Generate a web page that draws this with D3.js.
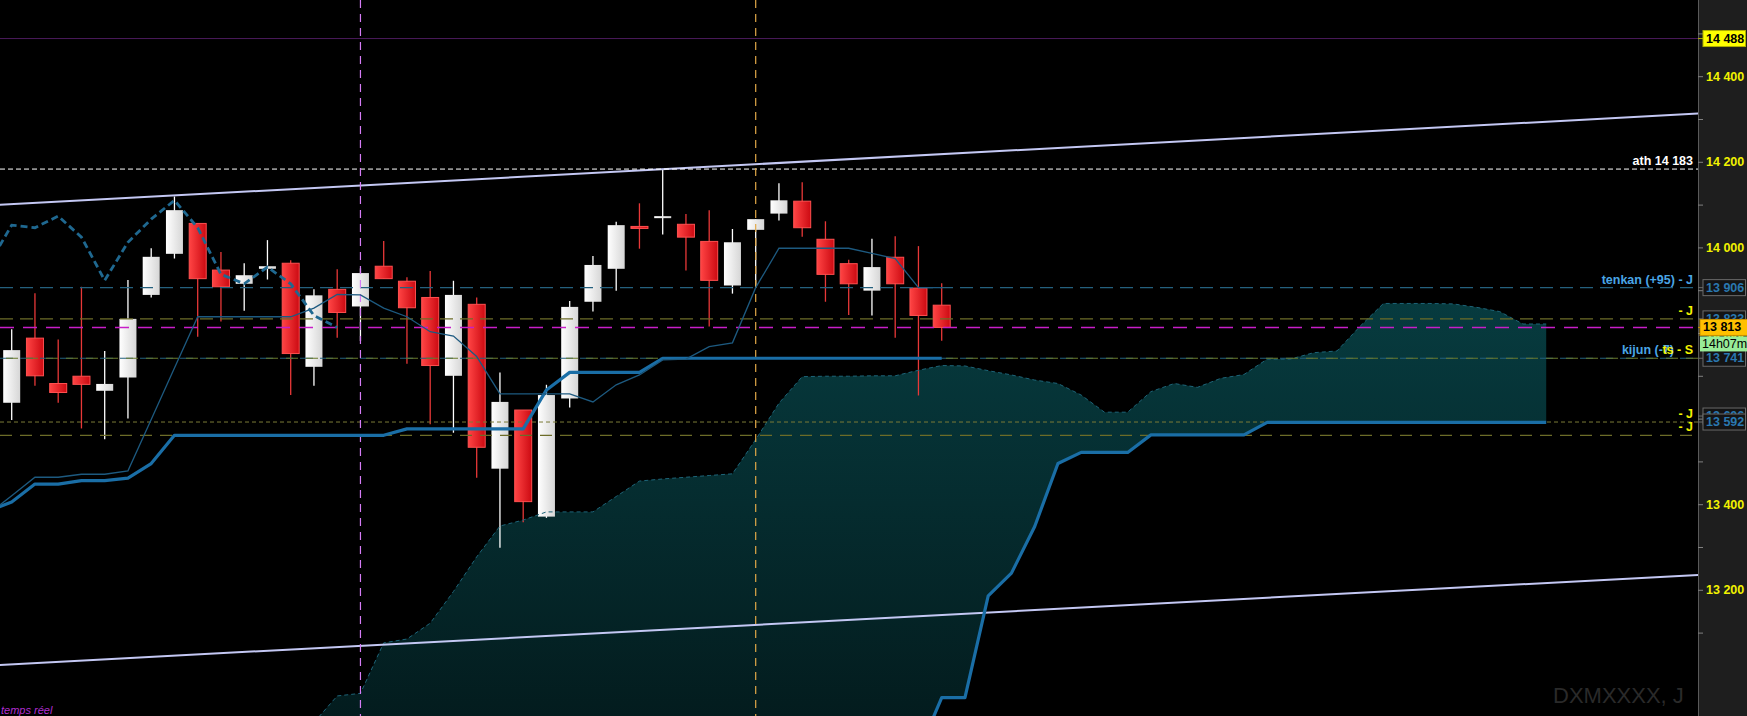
<!DOCTYPE html>
<html>
<head>
<meta charset="utf-8">
<script src="https://cdn.jsdelivr.net/npm/d3@7"></script>
<style>
  html, body { margin: 0; padding: 0; background: #000; overflow: hidden; }
  svg { display: block; }
</style>
</head>
<body>
<div id="chart"></div>
<script>
// ── Daily candles (index 0 = leftmost bar) ───────────────────
const opens  = [13637,13788,13682,13699,13665,13696,13889,13985,14056,13947,13915,13950,13963,13721,13902,13862,13956,13921,13883,13700,13867,13483,13620,13371,13647,13873,13950,14049,14070,14054,14014,13911,14041,14079,14108,14019,13962,13899,13977,13905,13865];
const highs  = [13809,13893,13785,13908,13758,13924,13998,14119,14056,13989,13963,14017,13970,13902,13949,13951,14015,13930,13945,13922,13883,13708,13620,13679,13875,13980,14060,14103,14183,14078,14087,14043,14066,14150,14152,14061,13971,14020,14026,14003,13916];
const lows   = [13597,13677,13637,13577,13552,13600,13883,13974,13791,13827,13852,13925,13655,13677,13789,13781,13927,13728,13587,13567,13462,13298,13358,13368,13626,13850,13899,13997,14030,13946,13815,13892,13906,14063,14025,13873,13842,13841,13789,13654,13782];
const closes = [13760,13700,13661,13680,13681,13833,13978,14087,13927,13908,13935,13956,13752,13888,13848,13940,13927,13859,13724,13889,13533,13639,13406,13655,13861,13959,14052,14046,14073,14024,13923,14012,14066,14110,14046,13937,13915,13954,13915,13841,13813];

// ── Ichimoku lines (tenkan / kijun start at index -1) ───────
const lineStart = -1;
const tenkan = [13377,13420,13463,13463,13470,13470,13478,13598,13718,13838,13838,13838,13838,13838,13858,13890,13889,13858,13838,13803,13793,13745,13658,13658,13658,13658,13639,13679,13702,13737,13739,13768,13777,13906,13998,13998,13998,13998,13986,13974,13906,13906];
const kijun  = [13384,13405,13447,13447,13455,13455,13461,13495,13561,13561,13561,13561,13561,13561,13561,13561,13561,13561,13576,13576,13576,13576,13576,13576,13667,13708,13708,13708,13708,13741,13741,13741,13741,13741,13741,13741,13741,13741,13741,13741,13741,13741];
const chikouShift = 26;

// senkou spans, projected 26 bars ahead
const spanAStart = 12;
const spanA = [12830,12890,12952,12958,13076,13085,13122,13196,13277,13349,13363,13382,13382,13382,13418,13454,13459,13463,13467,13471,13551,13636,13698,13699,13699,13700,13700,13713,13724,13723,13712,13702,13690,13682,13655,13615,13615,13663,13682,13673,13694,13703,13739,13739,13754,13758,13816,13869,13869,13869,13868,13860,13850,13821,13821];
const spanBStart = 39;
const spanB = [12820,12948,12948,13186,13239,13348,13495,13521,13521,13521,13562,13562,13562,13562,13562,13591,13591,13591,13591,13591,13591,13591,13591,13591,13591,13591,13591,13591];

// ── Drawings ─────────────────────────────────────────────────
const upperTrend = [[-1, 14098], [74, 14317]];
const lowerTrend = [[-1, 13023], [74, 13239]];
const markerBars = [15, 32];

const levelPrices = [14488, 14183, 13906, 13833, 13813, 13741, 13592, 13561];
const levelLabels = ['', 'ath 14 183', 'tenkan (+95) - J', '- J', '', 'kijun (-7)', '- J', '- J'];

// price tags on the axis, drawn in this order (later ones cover earlier)
const tagPrices = [13833, 13606, 13906, 13592, 13741, 13813, 14488];
const countdownText = '14h07mn';

const axisTicks = [13100,13200,13300,13400,13500,13600,13700,13800,13900,14000,14100,14200,14300,14400,14500];
const axisLabelTicks = [13200,13400,13600,13800,14000,14200,14400];

// ── Layout / styles ──────────────────────────────────────────
const W = 1747, H = 716, axisX = 1698;
const FONT = '"Liberation Sans", Arial, sans-serif';
const YELLOW = '#f2f200';
const LEVEL_STYLES = [
  { stroke: '#4a1a5a', dash: null,   width: 1   },   // 14488
  { stroke: '#ffffff', dash: '5 3',  width: 1   },   // ath
  { stroke: '#24607e', dash: '13 7', width: 1.2 },   // tenkan
  { stroke: '#6c6c28', dash: '13 7', width: 1.2 },   // 13833
  { stroke: '#c81ec8', dash: '14 9', width: 1.5 },   // 13813 last
  { stroke: '#24607e', dash: '13 7', width: 1.2 },   // kijun
  { stroke: '#7a7a36', dash: '4 3',  width: 1   },   // 13592
  { stroke: '#6c6c28', dash: '12 8', width: 1.2 },   // 13561
];
const LABEL_COLORS = ['#fff', '#ffffff', '#4aa6e6', YELLOW, '#fff', '#4aa6e6', YELLOW, YELLOW];

const x = d3.scaleLinear().domain([0, 40]).range([11.7, 941.7]);
const y = d3.scaleLinear().domain([13200, 14200]).range([589.8, 161.8]);
const fmt = d3.formatLocale({ decimal: ',', thousands: ' ', grouping: [3], currency: ['', ''] }).format(',d');

const svg = d3.select('#chart').append('svg')
  .attr('width', W).attr('height', H);

svg.append('rect').attr('width', W).attr('height', H).attr('fill', '#000');

const defs = svg.append('defs');
defs.append('clipPath').attr('id', 'plot-clip')
  .append('rect').attr('x', 0).attr('y', 0).attr('width', axisX).attr('height', H);

const cloudGrad = defs.append('linearGradient')
  .attr('id', 'cloud-grad').attr('gradientUnits', 'userSpaceOnUse')
  .attr('x1', 0).attr('x2', 0).attr('y1', 290).attr('y2', 716);
cloudGrad.append('stop').attr('offset', '0%').attr('stop-color', '#073c40');
cloudGrad.append('stop').attr('offset', '100%').attr('stop-color', '#031c1e');

const redGrad = defs.append('linearGradient').attr('id', 'red-grad').attr('x1', 0).attr('x2', 1);
redGrad.append('stop').attr('offset', '0%').attr('stop-color', '#ff4444');
redGrad.append('stop').attr('offset', '100%').attr('stop-color', '#cc0a12');
const whiteGrad = defs.append('linearGradient').attr('id', 'white-grad').attr('x1', 0).attr('x2', 1);
whiteGrad.append('stop').attr('offset', '0%').attr('stop-color', '#ffffff');
whiteGrad.append('stop').attr('offset', '100%').attr('stop-color', '#d6d6d6');

const plot = svg.append('g').attr('clip-path', 'url(#plot-clip)');

// ── Cloud fill ───────────────────────────────────────────────
const cloud = spanA.map((a, k) => {
  const i = spanAStart + k;
  const b = spanB[i - spanBStart];
  return { i, a, b: b === undefined ? null : b };
});
plot.append('path')
  .datum(cloud)
  .attr('fill', 'url(#cloud-grad)')
  .attr('d', d3.area()
    .x(d => x(d.i))
    .y1(d => y(d.a))
    .y0(d => d.b == null ? H + 40 : y(d.b)));

// ── Candles ──────────────────────────────────────────────────
const candles = closes.map((c, i) => ({ i, o: opens[i], h: highs[i], l: lows[i], c }));
const bodyW = 17;
const cg = plot.append('g');
candles.forEach(d => {
  const up = d.c >= d.o;
  cg.append('line')
    .attr('x1', x(d.i)).attr('x2', x(d.i))
    .attr('y1', y(d.h)).attr('y2', y(d.l))
    .attr('stroke', up ? '#ffffff' : '#e83838')
    .attr('stroke-width', 1.3);
  const top = y(Math.max(d.o, d.c));
  const hgt = Math.max(2, Math.abs(y(d.o) - y(d.c)));
  cg.append('rect')
    .attr('x', x(d.i) - bodyW / 2).attr('y', top)
    .attr('width', bodyW).attr('height', hgt)
    .attr('fill', up ? 'url(#white-grad)' : 'url(#red-grad)')
    .attr('stroke', up ? 'none' : '#ff5050')
    .attr('stroke-width', 1);
});

// ── Span A edge ──────────────────────────────────────────────
plot.append('path')
  .datum(cloud)
  .attr('fill', 'none')
  .attr('stroke', '#1d6478')
  .attr('stroke-width', 1)
  .attr('stroke-dasharray', '4 3')
  .attr('d', d3.line().x(d => x(d.i)).y(d => y(d.a)));

// ── Trend channel ────────────────────────────────────────────
[upperTrend, lowerTrend].forEach(t => {
  plot.append('line')
    .attr('x1', x(t[0][0])).attr('y1', y(t[0][1]))
    .attr('x2', x(t[1][0])).attr('y2', y(t[1][1]))
    .attr('stroke', '#c4c8f4')
    .attr('stroke-width', 2);
});

// ── Horizontal levels ────────────────────────────────────────
levelPrices.forEach((p, k) => {
  const s = LEVEL_STYLES[k];
  plot.append('line')
    .attr('x1', 0).attr('x2', axisX)
    .attr('y1', y(p)).attr('y2', y(p))
    .attr('stroke', s.stroke)
    .attr('stroke-width', s.width)
    .attr('stroke-dasharray', s.dash);
});
// kijun level also carries an olive dashed line on top
plot.append('line')
  .attr('x1', 6).attr('x2', axisX)
  .attr('y1', y(levelPrices[5])).attr('y2', y(levelPrices[5]))
  .attr('stroke', '#6a7a2c').attr('stroke-width', 1.2)
  .attr('stroke-dasharray', '12 8');

// ── Vertical markers ─────────────────────────────────────────
const markerColors = ['#d67cf6', '#e2a848'];
markerBars.forEach((b, k) => {
  plot.append('line')
    .attr('x1', x(b)).attr('x2', x(b))
    .attr('y1', 0).attr('y2', H)
    .attr('stroke', markerColors[k])
    .attr('stroke-width', 1.2)
    .attr('stroke-dasharray', '8 6');
});

// ── Ichimoku lines ───────────────────────────────────────────
const lineGen = d3.line().x(d => x(d.i)).y(d => y(d.p));
const asPts = (arr, start) => arr.map((p, k) => ({ i: start + k, p }));

plot.append('path').datum(asPts(spanB, spanBStart))
  .attr('fill', 'none').attr('stroke', '#1a6ea6').attr('stroke-width', 3.2)
  .attr('stroke-linejoin', 'round').attr('d', lineGen);

plot.append('path').datum(asPts(kijun, lineStart))
  .attr('fill', 'none').attr('stroke', '#1a6ea6').attr('stroke-width', 3.2)
  .attr('stroke-linejoin', 'round').attr('d', lineGen);

plot.append('path').datum(asPts(tenkan, lineStart))
  .attr('fill', 'none').attr('stroke', '#1d5a80').attr('stroke-width', 1.3)
  .attr('d', lineGen);

const chikou = closes.map((c, i) => ({ i: i - chikouShift, p: c })).filter(d => d.i >= -1);
plot.append('path').datum(chikou)
  .attr('fill', 'none').attr('stroke', '#1f6890').attr('stroke-width', 2.8)
  .attr('stroke-dasharray', '7 4')
  .attr('d', lineGen);

// ── Level labels ─────────────────────────────────────────────
levelLabels.forEach((t, k) => {
  if (!t) return;
  const ly = y(levelPrices[k]) - 4;
  plot.append('text')
    .attr('x', k === 5 ? 1674 : 1693).attr('y', ly)
    .attr('text-anchor', 'end')
    .attr('fill', LABEL_COLORS[k])
    .attr('font-family', FONT).attr('font-weight', 'bold').attr('font-size', 12.5)
    .text(t);
});
plot.append('text')
  .attr('x', 1693).attr('y', y(levelPrices[5]) - 4)
  .attr('text-anchor', 'end').attr('fill', YELLOW)
  .attr('font-family', FONT).attr('font-weight', 'bold').attr('font-size', 12.5)
  .text('ts - S');

// ── Footer texts ─────────────────────────────────────────────
svg.append('text')
  .attr('x', 1).attr('y', 714)
  .attr('fill', '#b02ed0').attr('font-style', 'italic')
  .attr('font-family', FONT).attr('font-size', 11)
  .text('temps réel');

svg.append('text')
  .attr('x', 1553).attr('y', 703)
  .attr('fill', '#2a2a2a')
  .attr('font-family', FONT).attr('font-size', 22)
  .text('DXMXXXX, J');

// ── Price axis ───────────────────────────────────────────────
svg.append('rect')
  .attr('x', axisX).attr('y', 0).attr('width', W - axisX).attr('height', H)
  .attr('fill', '#1e1e1e');
svg.append('line')
  .attr('x1', axisX + 0.5).attr('x2', axisX + 0.5).attr('y1', 0).attr('y2', H)
  .attr('stroke', '#5a5a5a').attr('stroke-width', 1);

const axis = svg.append('g')
  .attr('transform', `translate(${axisX},0)`)
  .call(d3.axisRight(y)
    .tickValues(axisTicks)
    .tickSize(5)
    .tickPadding(3)
    .tickFormat(d => axisLabelTicks.includes(d) ? fmt(d) : ''));
axis.select('.domain').remove();
axis.selectAll('.tick line').attr('stroke', '#808080');
axis.selectAll('.tick text')
  .attr('fill', YELLOW)
  .attr('font-family', FONT).attr('font-weight', 'bold').attr('font-size', 12.5);

// price tags
const tagStyle = p => {
  if (p === 14488) return { fill: '#ffff00', stroke: '#b0b000', text: '#000', x0: 1703 };
  if (p === 13813) return { fill: '#ffc000', stroke: '#c89000', text: '#000', x0: 1700 };
  return { fill: '#141414', stroke: '#6a6a6a', text: '#2a78b0', x0: 1703 };
};
tagPrices.forEach(p => {
  const s = tagStyle(p);
  const cy = y(p);
  if (p === 13813) {
    // countdown box sits just below the last price tag
    svg.append('rect')
      .attr('x', 1700).attr('y', cy + 9).attr('width', W - 1700 + 2).attr('height', 15)
      .attr('fill', '#98ec98');
    svg.append('text')
      .attr('x', 1702).attr('y', cy + 17)
      .attr('dominant-baseline', 'central')
      .attr('fill', '#000').attr('font-family', FONT).attr('font-size', 12.5)
      .text(countdownText);
  }
  svg.append('line')
    .attr('x1', axisX).attr('x2', s.x0).attr('y1', cy).attr('y2', cy)
    .attr('stroke', s.stroke);
  svg.append('rect')
    .attr('x', s.x0).attr('y', cy - 8).attr('width', W - s.x0 - (p === 13813 ? -2 : 1.5)).attr('height', 16)
    .attr('fill', s.fill).attr('stroke', s.stroke).attr('stroke-width', 1);
  svg.append('text')
    .attr('x', s.x0 + 3).attr('y', cy)
    .attr('dominant-baseline', 'central')
    .attr('fill', s.text)
    .attr('font-family', FONT).attr('font-weight', 'bold').attr('font-size', 12.5)
    .text(fmt(p));
});
</script>
</body>
</html>
